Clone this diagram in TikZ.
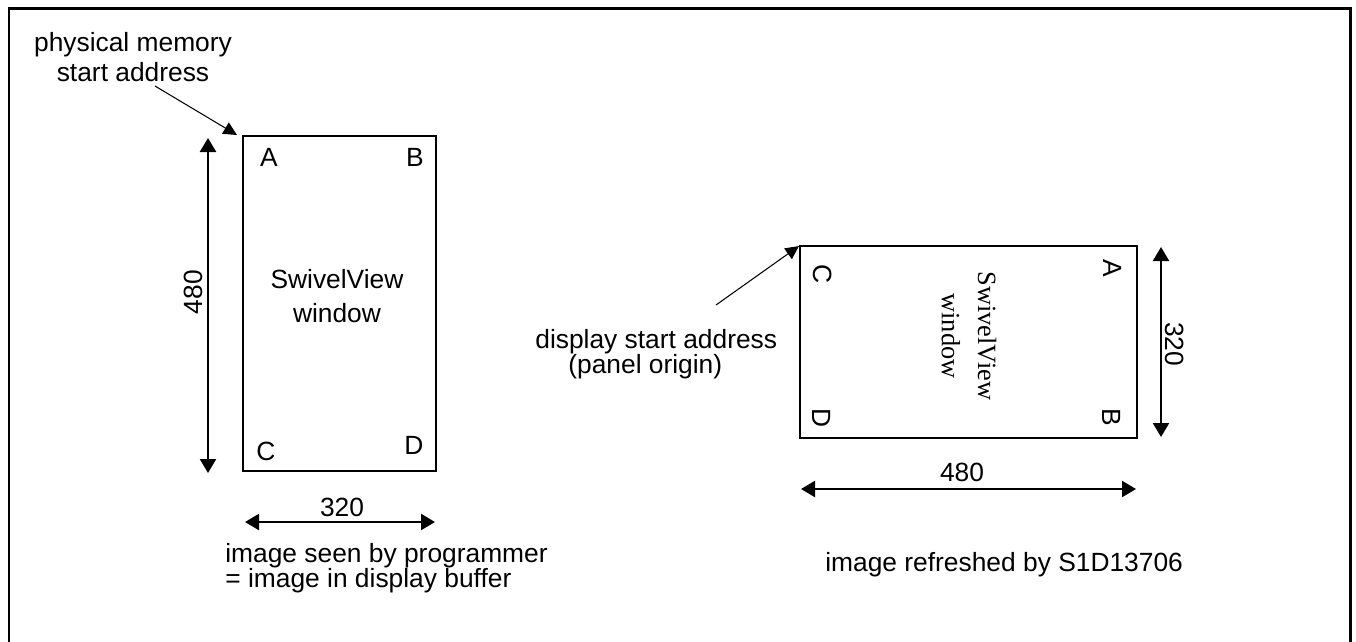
\documentclass[tikz,border=0pt]{standalone}
\usepackage{fontspec}
\setmainfont{Liberation Sans}
\newfontfamily\winserif{Liberation Serif}
\usetikzlibrary{positioning, calc, arrows.meta}
\tikzset{
  txt/.style={inner sep=0pt, font=\fontsize{15}{18}\selectfont},
  winbox/.style={line width=1.5pt},
  dimarrow/.style={line width=1.3pt, {Triangle[length=0.28cm,width=0.32cm]}-{Triangle[length=0.28cm,width=0.32cm]}},
  leader/.style={line width=0.6pt, -{Triangle[length=0.27cm,width=0.26cm]}}
}

\begin{document}
\begin{tikzpicture}[x=0.2mm, y=-0.2mm]
      \useasboundingbox (0,0) rectangle (1356,641);
      %% Outer frame (open at the bottom)
      \draw[line width=1.7pt] (9,650) -- (9,8) -- (1350,8) -- (1350,650);
      %% Image seen by programmer
      \coordinate (pbufNW) at (243,136);
      \coordinate (pbufSE) at (436,471);
      \draw[winbox] (pbufNW) rectangle (pbufSE);
      \node[txt] (pA) at (269,157) {A};
      \node[txt] (pB) at (415,157) {B};
      \node[txt] (pC) at (266,451) {C};
      \node[txt] (pD) at (414,445) {D};
      \node[txt, align=center, font=\fontsize{15}{19}\selectfont] (pwin) at (337,296) {SwivelView\\window};
      %% Physical memory start address
      \node[txt, align=center, font=\fontsize{15}{17}\selectfont] (physlbl) at (133,57) {physical memory\\start address};
      \coordinate (physfrom) at (155,86);
      \coordinate (phystip) at (237,135);
      \draw[leader] (physfrom) -- (phystip);
      %% Dimensions 480 x 320
      \coordinate (pvtop) at (208,138);
      \coordinate (pvbot) at (208,473);
      \draw[dimarrow] (pvtop) -- (pvbot);
      \node[txt, rotate=90] (p480) at (193,292) {480};
      \coordinate (phleft) at (245,522);
      \coordinate (phright) at (435,522);
      \draw[dimarrow] (phleft) -- (phright);
      \node[txt] (p320) at (342,507) {320};
      \node[txt, align=left, anchor=west] (pcap) at (225,568) {image seen by programmer\\[-4pt]= image in display buffer};
      %% Image refreshed by S1D13706
      \coordinate (panNW) at (800,246);
      \coordinate (panSE) at (1137,438);
      \draw[winbox] (panNW) rectangle (panSE);
      \node[txt, rotate=-90] (rC) at (823,274) {C};
      \node[txt, rotate=-90] (rA) at (1113,268) {A};
      \node[txt, rotate=-90] (rD) at (822,418) {D};
      \node[txt, rotate=-90] (rB) at (1112,417) {B};
      \node[txt, rotate=-90, align=center, font=\winserif\fontsize{15}{20.5}\selectfont] (rwin) at (969,336) {SwivelView\\window};
      %% Display start address
      \node[txt, align=left, anchor=west] (displbl) at (535,354) {display start address\\[-4pt]\hspace*{0.66cm}(panel origin)};
      \coordinate (dispfrom) at (716,305);
      \coordinate (disptip) at (799,246);
      \draw[leader] (dispfrom) -- (disptip);
      %% Dimensions 320 x 480
      \coordinate (rvtop) at (1161,247);
      \coordinate (rvbot) at (1161,437);
      \draw[dimarrow] (rvtop) -- (rvbot);
      \node[txt, rotate=-90] (r320) at (1175,344) {320};
      \coordinate (rhleft) at (801,489);
      \coordinate (rhright) at (1136,489);
      \draw[dimarrow] (rhleft) -- (rhright);
      \node[txt] (r480) at (962,472) {480};
      \node[txt, anchor=west] (rcap) at (825,565) {image refreshed by S1D13706};
    \end{tikzpicture}
\end{document}
